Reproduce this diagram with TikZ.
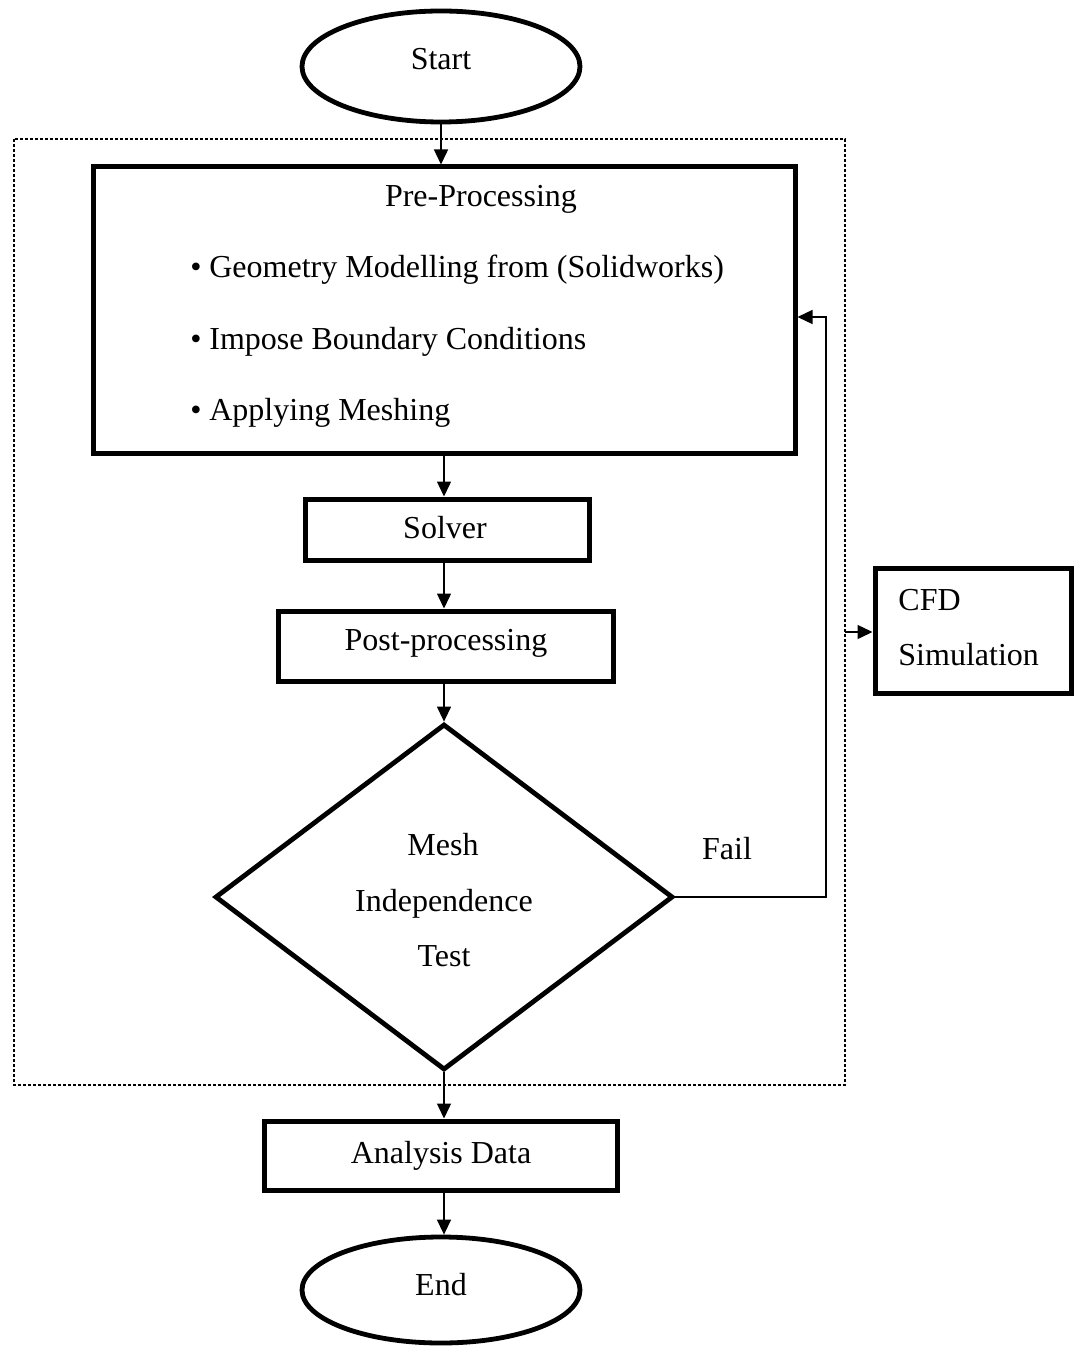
\documentclass[tikz,border=0pt]{standalone}
\usepackage{fontspec}
\setmainfont{Liberation Serif}
\usetikzlibrary{shapes.geometric,arrows.meta}
\begin{document}
\begin{tikzpicture}[x=0.5pt,y=-0.5pt,
  font=\fontsize{16}{19}\selectfont,
  term/.style={draw, ellipse, line width=2.4pt, minimum width=139pt, minimum height=55.5pt, inner sep=0pt},
  box/.style={draw, rectangle, line width=2.5pt, inner sep=0pt},
  lbl/.style={anchor=base, inner sep=0pt},
  lbll/.style={anchor=base west, inner sep=0pt},
  arr/.style={-{Triangle[length=7.5pt,width=7pt]}, line width=0.7pt},
  framestyle/.style={dash pattern=on 1.5pt off 1pt, line width=0.6pt}]
\useasboundingbox (0,0) rectangle (1080,1347);

% frame
\draw[framestyle] (14,139) rectangle (845,1085);

% shapes
\node[term] (start) at (441,66.5) {};
\node[box, minimum width=351pt, minimum height=143pt] (pre) at (444,310) {};
\node[box, minimum width=142pt, minimum height=30.5pt] (solver) at (447,529.5) {};
\node[box, minimum width=167.5pt, minimum height=35pt] (post) at (445.5,646) {};
\node[draw, diamond, line width=2.4pt, minimum width=229pt, minimum height=173pt, inner sep=0pt] (mesh) at (444,897) {};
\node[box, minimum width=98pt, minimum height=62.5pt] (cfd) at (973,630.5) {};
\node[box, minimum width=176.5pt, minimum height=34.5pt] (ana) at (440.5,1155.5) {};
\node[term, minimum height=53pt] (end) at (441,1290) {};

% texts
\node[lbl] (starttxt) at (441,70) {Start};
\node[lbl] (pretitle) at (481,207) {Pre-Processing};
\node[lbll] (b1) at (190,278) {\makebox[9.5pt][l]{•}Geometry Modelling from (Solidworks)};
\node[lbll] (b2) at (190,350) {\makebox[9.5pt][l]{•}Impose Boundary Conditions};
\node[lbll] (b3) at (190,421) {\makebox[9.5pt][l]{•}Applying Meshing};
\node[lbl] (solvertxt) at (445,538) {Solver};
\node[lbl] (posttxt) at (446,650) {Post-processing};
\node[lbl] (m1) at (443,855) {Mesh};
\node[lbl] (m2) at (444,911) {Independence};
\node[lbl] (m3) at (444,966) {Test};
\node[lbl] (failtxt) at (727,859) {Fail};
\node[lbll] (cfd1) at (898,610) {CFD};
\node[lbll] (cfd2) at (898,665) {Simulation};
\node[lbl] (anatxt) at (441,1163) {Analysis Data};
\node[lbl] (endtxt) at (441,1295) {End};

% connectors
\coordinate (failturn) at (826,897);
\coordinate (frameE) at (845,632);
\coordinate (solvout) at (solver.south -| pre.south);
\coordinate (anaout) at (ana.south -| mesh.south);
\draw[arr] (start.south) -- (start.south |- pre.north);
\draw[arr] (pre.south) -- (pre.south |- solver.north);
\draw[arr] (solvout) -- (solvout |- post.north);
\draw[arr] (post.south -| mesh.north) -- (mesh.north);
\draw[arr] (mesh.south) -- (mesh.south |- ana.north);
\draw[arr] (anaout) -- (anaout |- end.north);
\draw[arr] (mesh.east) -- (failturn) |- ([yshift=-3.5pt]pre.east);
\draw[arr] (frameE) -- (frameE -| cfd.west);
\end{tikzpicture}
\end{document}
